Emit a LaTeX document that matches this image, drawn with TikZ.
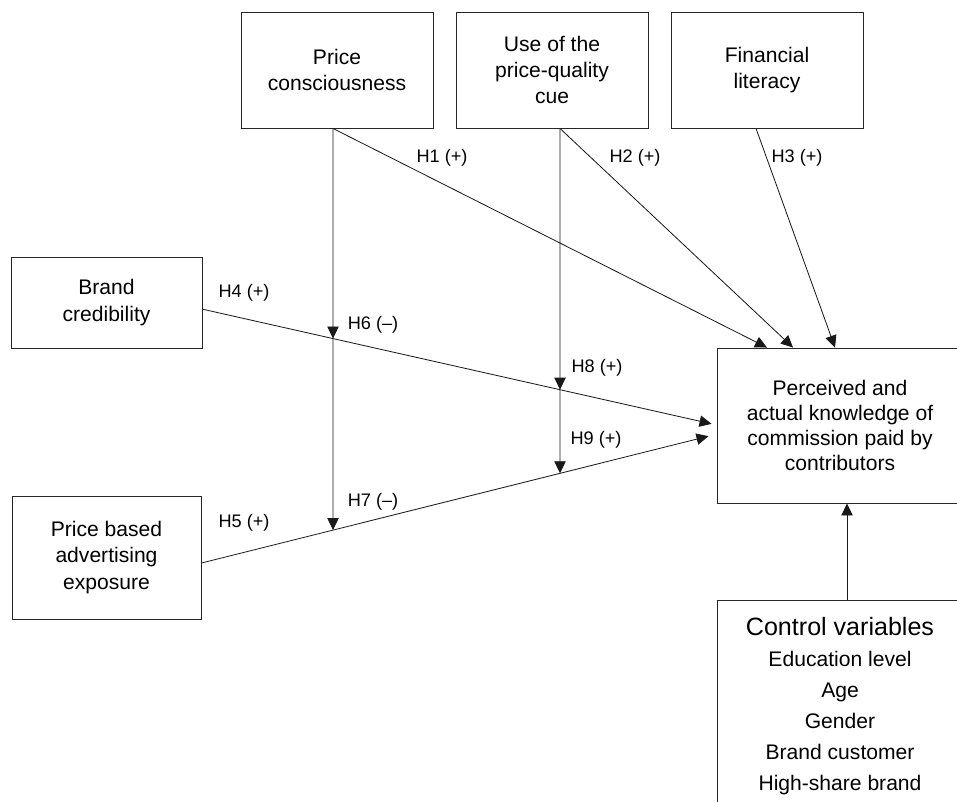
\documentclass[tikz,border=0pt]{standalone}
\usepackage{fontspec}
\setmainfont{Liberation Sans}
\usetikzlibrary{arrows.meta,intersections}

\tikzset{
  hyp box/.style={rectangle, draw=black!85, line width=0.8pt, align=center, inner sep=0pt, font=\fontsize{18}{22.5}\selectfont},
  hyp top/.style={hyp box, minimum width=5.76cm, minimum height=3.48cm},
  hyp edge/.style={-{Triangle[length=3.6mm,width=3.4mm]}, draw=black!90, line width=0.7pt},
  hyp note/.style={font=\fontsize{15.5}{18}\selectfont, inner sep=0pt},
}

\begin{document}
\begin{tikzpicture}[x=0.03cm, y=-0.03cm, node distance=6.45cm]
  \useasboundingbox (0,0) rectangle (957,801);
  \clip (0,0) rectangle (957,801);
  % antecedents
  \node (pc) [hyp top] at (337,70) {Price\\consciousness};
  \node (pq) [hyp top, right of=pc] {Use of the\\price-quality\\cue};
  \node (fl) [hyp top, right of=pq] {Financial\\literacy};
  \node (bc) [hyp box, minimum width=5.73cm, minimum height=2.73cm] at (106.5,302.5) {Brand\\credibility};
  \node (pa) [hyp box, minimum width=5.67cm, minimum height=3.69cm] at (106.5,557.5) {Price based\\advertising\\exposure};
  % outcome and controls
  \node (kn) [hyp box, minimum width=7.38cm, minimum height=4.65cm, font=\fontsize{18}{21.3}\selectfont] at (840,425.5) {Perceived and\\actual knowledge of\\commission paid by\\contributors};
  \node (cv) [hyp box, anchor=north, minimum width=7.38cm, minimum height=7cm] at (840,600) {};
  \node (cvtext) [align=center, inner sep=0pt, font=\fontsize{18}{26.6}\selectfont] at (840,706)
    {{\fontsize{21.4}{26.6}\selectfont Control variables}\\Education level\\Age\\Gender\\Brand customer\\High-share brand};

  \coordinate (pcout) at ([xshift=-0.12cm]pc.south);
  \coordinate (pqout) at ([xshift=0.24cm]pq.south);
  \coordinate (flout) at ([xshift=-0.33cm]fl.south);
  \coordinate (bcout) at ([yshift=-0.2cm]bc.east);
  \coordinate (paout) at ([yshift=-0.165cm]pa.east);
  \coordinate (knin1) at ([xshift=-2.19cm]kn.north);
  \coordinate (knin2) at ([xshift=-1.41cm]kn.north);
  \coordinate (knin3) at ([xshift=-0.15cm]kn.north);
  \coordinate (knin4) at ([xshift=-0.15cm,yshift=0.05cm]kn.west);
  \coordinate (knin5) at ([xshift=-0.24cm,yshift=-0.32cm]kn.west);

  % moderator crossings
  \path[name path=line4] (bcout) -- (knin4);
  \path[name path=line5] (paout) -- (knin5);
  \path[name path=vert6] (pcout) -- ++(0,700);
  \path[name path=vert8] (pqout) -- ++(0,700);
  \path[name intersections={of=line4 and vert6, by=m6}];
  \path[name intersections={of=line5 and vert6, by=m7}];
  \path[name intersections={of=line4 and vert8, by=m8}];
  \path[name intersections={of=line5 and vert8, by=m9}];

  \draw[hyp edge] (pcout) -- (knin1);
  \draw[hyp edge] (pqout) -- (knin2);
  \draw[hyp edge] (flout) -- (knin3);
  \draw[hyp edge] (bcout) -- (knin4);
  \draw[hyp edge] (paout) -- (knin5);
  \draw[hyp edge] (pcout) -- (m6);
  \draw[hyp edge] (m6) -- (m7);
  \draw[hyp edge] (pqout) -- (m8);
  \draw[hyp edge] (m8) -- (m9);
  \draw[hyp edge] ([xshift=0.21cm]cv.north) -- ([xshift=0.21cm]kn.south);

  \node (h1) [hyp note] at (442,158) {H1 (+)};
  \node (h2) [hyp note] at (635,158) {H2 (+)};
  \node (h3) [hyp note] at (797,158) {H3 (+)};
  \node (h4) [hyp note] at (244,293) {H4 (+)};
  \node (h5) [hyp note] at (244,523) {H5 (+)};
  \node (h6) [hyp note] at (373,325) {H6 (–)};
  \node (h7) [hyp note] at (373,502) {H7 (–)};
  \node (h8) [hyp note] at (597,368) {H8 (+)};
  \node (h9) [hyp note] at (596,440) {H9 (+)};
\end{tikzpicture}
\end{document}
